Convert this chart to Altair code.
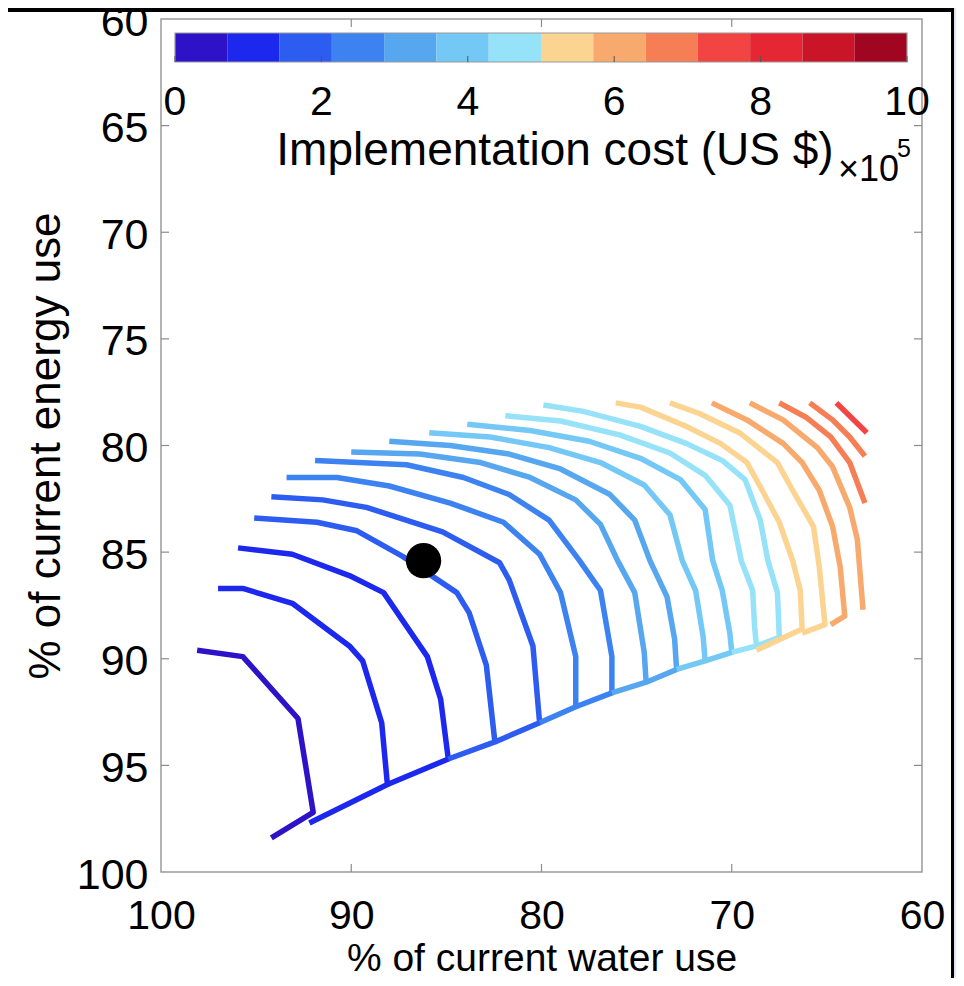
import altair as alt
import pandas as pd

# ---------------- data ----------------
cost_levels = [0.37, 0.74, 1.11, 1.48, 1.85, 2.22, 2.59, 2.96, 3.33, 3.70,
               4.07, 4.44, 4.81, 5.18, 5.55, 5.92, 6.29, 6.66, 7.03, 7.40]

water_use = [
    [98.1, 95.7, 92.8, 92.0, 94.2],
    [97.0, 95.7, 93.1, 90.1, 89.4, 88.4, 88.1, 92.2],
    [95.95, 93.1, 90.1, 88.3, 86.0, 85.3, 84.9, 88.1],
    [95.1, 91.8, 89.7, 87.3, 84.45, 83.8, 82.9, 82.45, 84.9],
    [94.2, 91.5, 89.2, 85.2, 82.2, 81.7, 80.45, 80.1, 82.45],
    [93.4, 90.75, 88.0, 84.8, 82.0, 80.1, 79.0, 78.2, 78.2, 80.1],
    [91.9, 87.1, 84.1, 81.7, 79.6, 78.0, 76.9, 76.3, 76.3, 78.2],
    [90.0, 86.4, 83.2, 80.6, 78.2, 76.9, 76.0, 75.1, 74.6, 74.5, 76.3],
    [88.0, 84.8, 81.7, 79.0, 76.4, 75.1, 74.3, 73.4, 73.0, 72.9, 74.5],
    [85.9, 82.7, 79.6, 76.9, 74.6, 73.25, 72.6, 71.9, 71.5, 71.4, 72.9],
    [83.9, 80.6, 77.5, 74.8, 72.7, 71.4, 71.0, 70.5, 70.1, 70.0, 71.4],
    [81.9, 79.0, 75.9, 73.25, 71.4, 70.1, 69.5, 68.9, 68.8, 68.7, 70.0],
    [79.9, 77.8, 74.8, 72.4, 70.5, 69.3, 68.5, 68.1, 67.6, 67.5, 68.7],
    [76.1, 74.8, 72.4, 70.6, 69.2, 68.4, 67.5, 66.8, 66.4, 66.3, 68.7],
    [73.25, 71.7, 69.6, 67.6, 66.8, 65.7, 65.4, 65.1, 66.3],
    [71.05, 69.2, 67.3, 66.3, 65.4, 64.7, 64.3, 64.06, 64.8],
    [69.05, 67.3, 65.5, 64.7, 63.8, 63.4, 63.1],
    [67.5, 66.05, 64.8, 63.8, 63.0],
    [65.9, 64.7, 63.8, 63.0],
    [64.5, 62.9],
]

energy_use = [
    [89.6, 89.9, 92.8, 97.2, 98.4],
    [86.7, 86.7, 87.4, 89.4, 90.1, 93.0, 95.9, 97.7],
    [84.8, 85.1, 86.1, 86.9, 89.9, 91.9, 94.7, 95.9],
    [83.4, 83.6, 84.0, 85.2, 86.9, 87.85, 90.3, 93.9, 94.7],
    [82.4, 82.55, 82.9, 84.05, 85.5, 86.3, 89.4, 93.0, 93.9],
    [81.5, 81.5, 81.9, 82.7, 83.6, 85.1, 86.9, 89.9, 92.25, 93.0],
    [80.7, 80.9, 81.5, 82.3, 83.5, 85.4, 86.8, 89.9, 91.6, 92.25],
    [80.3, 80.4, 80.8, 81.5, 82.55, 83.7, 85.4, 86.9, 89.7, 91.1, 91.6],
    [79.8, 80.0, 80.4, 81.1, 82.3, 83.5, 85.4, 87.1, 89.1, 90.5, 91.1],
    [79.4, 79.6, 80.1, 80.8, 81.85, 83.25, 85.4, 86.8, 89.0, 90.1, 90.5],
    [79.0, 79.3, 79.8, 80.6, 81.6, 83.0, 85.4, 86.8, 88.8, 89.7, 90.1],
    [78.6, 78.85, 79.5, 80.35, 81.4, 82.8, 85.4, 86.8, 88.5, 89.4, 89.7],
    [78.1, 78.4, 79.1, 79.9, 80.7, 81.6, 83.5, 85.4, 86.9, 89.0, 89.4],
    [78.0, 78.2, 79.1, 79.9, 80.8, 82.1, 83.6, 85.4, 86.8, 88.6, 89.6],
    [78.0, 78.5, 79.4, 80.8, 82.1, 83.8, 85.7, 88.4, 88.8],
    [78.0, 78.8, 79.9, 80.8, 82.1, 83.8, 85.7, 88.0, 88.4],
    [78.0, 78.8, 80.1, 81.0, 82.9, 84.4, 87.7],
    [78.0, 78.7, 79.6, 80.8, 82.7],
    [78.0, 78.8, 79.6, 80.5],
    [78.0, 79.4],
]

marker_water = [86.2]
marker_energy = [85.4]

x_ticks = [100, 90, 80, 70, 60]
y_ticks = [60, 65, 70, 75, 80, 85, 90, 95, 100]
x_inner_ticks = [90, 80, 70]
y_inner_ticks = [65, 70, 75, 80, 85, 90, 95]

cbar_edges = [0, 0.714, 1.429, 2.143, 2.857, 3.571, 4.286, 5.0,
              5.714, 6.429, 7.143, 7.857, 8.571, 9.286, 10]
cbar_colors = ["#2d12c8", "#1c28ee", "#2c5cf0", "#3c82f0", "#56a6f0",
               "#74c8f5", "#96e2f8", "#fcd492", "#f8aa6e", "#f57e54",
               "#f34444", "#e42732", "#ca1428", "#a00622"]
cbar_ticks = [0, 2, 4, 6, 8, 10]
cbar_labels = ["0", "2", "4", "6", "8", "10"]

FONT = "Liberation Sans"

# ---------------- tables ----------------
rows = []
for i, (ws, es) in enumerate(zip(water_use, energy_use)):
    for j, (w, e) in enumerate(zip(ws, es)):
        rows.append({"line": i, "seq": j, "cost": cost_levels[i], "water": w, "energy": e})
lines_df = pd.DataFrame(rows)

dot_df = pd.DataFrame({"water": marker_water, "energy": marker_energy})
xt_df = pd.DataFrame({"water": x_inner_ticks})
yt_df = pd.DataFrame({"energy": y_inner_ticks})

cbar_df = pd.DataFrame({"lo": cbar_edges[:-1], "hi": cbar_edges[1:], "col": cbar_colors})
cbar_box_df = pd.DataFrame({"lo": [cbar_edges[0]], "hi": [cbar_edges[-1]]})
cbar_tick_df = pd.DataFrame({"v": cbar_ticks, "lab": cbar_labels})
one_df = pd.DataFrame({"a": [0]})

W, H = 761, 853

x_scale = alt.Scale(domain=[60, 100], reverse=True, nice=False, zero=False)
y_scale = alt.Scale(domain=[60, 100], reverse=True, nice=False, zero=False)

x_axis = alt.Axis(values=x_ticks, title="% of current water use", grid=False,
                  domain=False, ticks=False, tickSize=0, labelFontSize=41,
                  labelFont=FONT, labelColor="black", labelPadding=24,
                  labelFlush=False, labelOverlap=False, titleFont=FONT,
                  titleFontSize=39, titleFontWeight="normal", titleColor="black",
                  titlePadding=3)
y_axis = alt.Axis(values=y_ticks, title="% of current energy use", grid=False,
                  domain=False, ticks=False, tickSize=0, labelFontSize=43,
                  labelFont=FONT, labelColor="black", labelPadding=13,
                  labelOffset=3, labelFlush=False, labelOverlap=False,
                  titleFont=FONT, titleFontSize=44, titleFontWeight="normal",
                  titleColor="black", titlePadding=8)

X = alt.X("water:Q", scale=x_scale, axis=x_axis)
Y = alt.Y("energy:Q", scale=y_scale, axis=y_axis)

lines = alt.Chart(lines_df).mark_line(strokeWidth=5.5, strokeJoin="round").encode(
    x=X, y=Y,
    color=alt.Color("cost:Q", legend=None,
                    scale=alt.Scale(type="threshold", domain=cbar_edges[1:-1],
                                    range=cbar_colors)),
    detail="line:N",
    order="seq:Q",
)

dot = alt.Chart(dot_df).mark_circle(size=1250, color="black", opacity=1).encode(x=X, y=Y)

tick_col = "#8c8c8c"
xt_bottom = alt.Chart(xt_df).mark_rule(color=tick_col, strokeWidth=1.2).encode(
    x=X, y=alt.value(H), y2=alt.value(H - 8))
xt_top = alt.Chart(xt_df).mark_rule(color=tick_col, strokeWidth=1.2).encode(
    x=X, y=alt.value(0), y2=alt.value(8))
yt_left = alt.Chart(yt_df).mark_rule(color=tick_col, strokeWidth=1.2).encode(
    y=Y, x=alt.value(0), x2=alt.value(8))
yt_right = alt.Chart(yt_df).mark_rule(color=tick_col, strokeWidth=1.2).encode(
    y=Y, x=alt.value(W), x2=alt.value(W - 8))

# ---------------- colorbar ----------------
cb_scale = alt.Scale(domain=[0, 10], range=[14, 746], nice=False, zero=False)
CB_Y0, CB_Y1 = 14, 43

cb_rects = alt.Chart(cbar_df).mark_rect().encode(
    x=alt.X("lo:Q", scale=cb_scale, axis=None), x2="hi:Q",
    y=alt.value(CB_Y0), y2=alt.value(CB_Y1),
    color=alt.Color("col:N", scale=None, legend=None))
cb_box = alt.Chart(cbar_box_df).mark_rect(fill=None, stroke="#9a9a9a", strokeWidth=1.2).encode(
    x=alt.X("lo:Q", scale=cb_scale, axis=None), x2="hi:Q",
    y=alt.value(CB_Y0), y2=alt.value(CB_Y1))
cb_ticks = alt.Chart(cbar_tick_df).mark_rule(color="#555555", strokeWidth=1).encode(
    x=alt.X("v:Q", scale=cb_scale, axis=None),
    y=alt.value(CB_Y1), y2=alt.value(CB_Y1 - 6))
cb_labels = alt.Chart(cbar_tick_df).mark_text(
    font=FONT, fontSize=41, baseline="middle", align="center", color="black").encode(
    x=alt.X("v:Q", scale=cb_scale, axis=None), y=alt.value(84), text="lab:N")
cb_title = alt.Chart(one_df).mark_text(
    font=FONT, fontSize=46, baseline="alphabetic", align="center", color="black",
    text="Implementation cost (US $)").encode(x=alt.value(394), y=alt.value(146))
cb_exp = alt.Chart(one_df).mark_text(
    font=FONT, fontSize=36, baseline="alphabetic", align="left", color="black",
    text="\u00d710").encode(x=alt.value(677), y=alt.value(162))
cb_exp5 = alt.Chart(one_df).mark_text(
    font=FONT, fontSize=25, baseline="alphabetic", align="left", color="black",
    text="5").encode(x=alt.value(736), y=alt.value(138))

# screenshot frame (light border + black line), drawn last so it sits on top
frame_fill_r = alt.Chart(one_df).mark_rect(color="#dfe6f2").encode(
    x=alt.value(W + 32), x2=alt.value(W + 60), y=alt.value(-20), y2=alt.value(H + 200))
frame_top = alt.Chart(one_df).mark_rect(color="black").encode(
    x=alt.value(-160), x2=alt.value(W + 32), y=alt.value(-12), y2=alt.value(-7))
frame_right = alt.Chart(one_df).mark_rect(color="black").encode(
    x=alt.value(W + 29), x2=alt.value(W + 32), y=alt.value(-12), y2=alt.value(H + 200))

main = alt.layer(lines, dot, xt_bottom, xt_top, yt_left, yt_right)
colorbar = alt.layer(cb_rects, cb_box, cb_ticks, cb_labels, cb_title, cb_exp, cb_exp5,
                     frame_fill_r, frame_top, frame_right)

chart = alt.layer(main, colorbar).resolve_scale(
    x="independent", color="independent"
).properties(
    width=W, height=H,
    autosize=alt.AutoSizeParams(type="none"),
    padding={"left": 153, "top": 11, "right": 34, "bottom": 106},
    background="white",
).configure_view(stroke="#9a9a9a", strokeWidth=1.5)

chart.save("out.html", embed_options={"renderer": "svg", "actions": False})
